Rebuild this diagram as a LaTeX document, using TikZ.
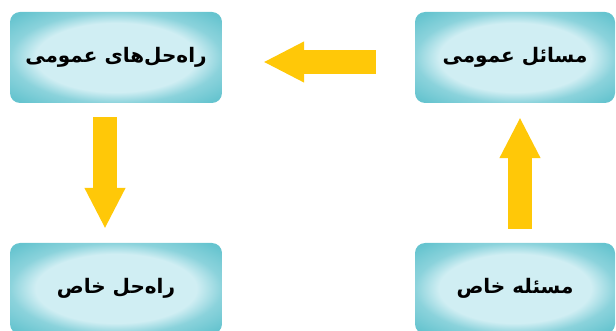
\documentclass[tikz,border=0pt]{standalone}
\usepackage{fontspec}
\usetikzlibrary{arrows.meta}
\newfontfamily\arabicfont[Script=Arabic]{DejaVu Sans}
\TeXXeTstate=1
\definecolor{boxteal}{RGB}{102,196,207}
\definecolor{boxlight}{RGB}{208,238,243}
\definecolor{arrowyellow}{RGB}{255,200,8}
\pgfdeclareradialshading{boxglow}{\pgfpoint{0bp}{0bp}}{color(0bp)=(boxlight); color(19bp)=(boxlight); color(25bp)=(boxteal!65!boxlight); color(33bp)=(boxteal); color(50bp)=(boxteal)}

\begin{document}
\begin{tikzpicture}[x=1pt,y=-1pt,
  box/.style={rounded corners=10pt, shade, shading=boxglow, minimum height=91pt, inner sep=0pt,
    font=\arabicfont\bfseries\fontsize{20}{24}\selectfont},
  bigarrow/.style={line width=24pt, draw=arrowyellow, -{Triangle[length=41pt,width=38pt]}}]
\useasboundingbox (0,0) rectangle (616,331);
\node[box, minimum width=212pt] (gensol) at (116,57.5) {\beginR راه‌حل‌های عمومی\endR};
\node[box, minimum width=200pt] (genprob) at (515,57.5) {\beginR مسائل عمومی\endR};
\node[box, minimum width=212pt] (specsol) at (116,288.5) {\beginR راه‌حل خاص\endR};
\node[box, minimum width=200pt] (specprob) at (515,288.5) {\beginR مسئله خاص\endR};

\draw[bigarrow, shorten <=39pt, shorten >=41pt] ([yshift=-4.5pt]genprob.west) -- ([yshift=-4.5pt]gensol.east);
\draw[bigarrow, shorten <=14pt, shorten >=14pt] ([xshift=-11pt]gensol.south) -- ([xshift=-11pt]specsol.north);
\draw[bigarrow, shorten <=14pt, shorten >=14pt] ([xshift=5pt]specprob.north) -- ([xshift=5pt]genprob.south);
\end{tikzpicture}
\end{document}
